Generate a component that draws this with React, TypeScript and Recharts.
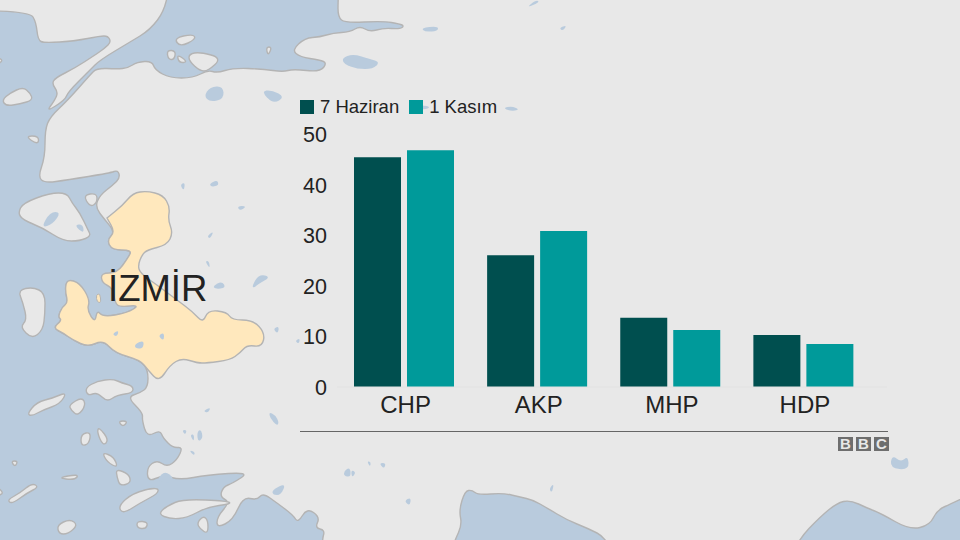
import React from 'react';
import { BarChart, Bar, XAxis, YAxis, Legend } from 'recharts';

const parties = ['CHP', 'AKP', 'MHP', 'HDP'];
const june = [45.5, 26.1, 13.7, 10.3];
const november = [46.9, 30.9, 11.3, 8.5];
const yTicks = [0, 10, 20, 30, 40, 50];
const seriesNames = ['7 Haziran', '1 Kasım'];

const data = parties.map((party, i) => ({ party, june: june[i], november: november[i] }));

const FONT = '"Liberation Sans", Arial, sans-serif';
const DARK = '#004f4f';
const TEAL = '#009a9a';
const LAND = '#e8e8e8';
const SEA = '#b9cbdd';
const COAST = '#b4b4b4';

// background map
const seas = [
  '-40,-30 -40,-40 -30,-40 340,-40 338,0 338,17 345,23 383,21 400,24 404,26 400,29 383,28 370,32 360,26 350,32 333,33 320,37 305,38 292,50 300,57 320,60 327,63 320,72 293,69 283,72 263,69 233,68 217,73 208,70 193,78 170,78 155,70 152,61 137,62 128,68 117,69 97,68 90,75 68,100 50,117 45,130 45,157 38,177 45,183 67,180 110,173 118,170 120,178 113,185 100,195 95,207 105,220 115,232 107,240 112,250 132,250 128,258 117,273 113,288 115,303 140,305 127,313 103,317 95,323 87,310 80,283 67,280 65,290 68,303 62,307 58,317 62,320 53,328 63,333 73,340 88,347 103,340 115,353 140,360 148,370 148,387 140,393 127,397 143,413 142,420 147,437 160,430 163,438 173,448 183,447 177,460 167,467 157,460 147,467 148,482 163,475 180,480 207,475 250,472 233,483 223,487 220,497 230,502 217,517 217,528 233,520 243,497 257,500 263,493 277,503 293,515 298,523 307,508 320,517 315,528 325,530 322,540 322,580 -30,580 -40,580 -40,570',
  '440,580 455,540 462,525 459,510 465,491 472,490 478,495 503,493 520,497 533,500 547,508 567,520 587,528 607,538 625,580',
  '780,580 798,540 820,517 837,503 850,500 867,508 880,513 910,530 930,525 937,510 953,503 1000,480 1000,580',
];

const islands = [
  '-40,10 30,12 36,22 38,40 44,43 75,41 100,36 108,36 111,42 105,48 95,55 75,68 55,78 52,84 58,92 55,100 46,112 65,100 68,92 90,70 100,60 130,42 150,30 165,10 170,-20 -40,-40',
  '2,100 10,93 23,87 30,93 33,100 20,104 6,106',
  '25,136 39,136 38,145',
  '-5,57 4,60 -5,66',
  '174,38 193,34 196,39 180,47',
  '167,50 176,51 174,60 168,59',
  '177,54 188,62 179,63',
  '189,54 200,52 222,58 208,71 200,71 189,61',
  '266,47 272,47 268,56',
  '18,213 23,203 50,193 67,193 72,203 80,213 88,230 91,236 80,241 63,241 43,228 23,220',
  '83,195 97,193 97,203 90,207',
  '18,290 33,287 45,293 45,313 43,330 32,339 20,327 27,320 23,303',
  '85,388 97,381 113,379 122,383 133,386 133,393 117,395 107,402 97,392 88,396',
  '27,414 37,402 53,398 67,392 60,404 43,410 32,416',
  '69,405 82,397 86,405 78,416 71,410',
  '118,421 128,421 123,427',
  '81,434 91,432 89,444 81,446',
  '99,427 109,440 103,446 97,432',
  '102,452 114,457 118,468 107,462',
  '116,469 129,474 131,483 120,486 117,477',
  '118,506 133,493 157,487 159,493 140,503 123,514',
  '158,514 167,506 183,499 228,501 231,504 207,507 187,518 170,519',
  '137,521 148,522 146,529 137,528',
  '197,523 203,516 208,520 208,534 200,529',
  '57,525 70,519 78,525 68,534 59,534',
  '7,500 20,493 32,483 39,487 27,493 12,504',
  '57,478 79,474 75,480',
  '11,461 18,461 15,467',
  '-3,487 4,493 -3,496',
];

const lakes = [
  '204,96 210,87 223,86 224,99 210,102',
  '261,91 272,90 285,97 273,104',
  '342,58 353,54 370,59 380,62 373,69 357,69 344,64',
  '421,28 438,26 438,31 425,32',
  '41,228 50,212 61,212 53,224',
  '74,225 83,224 84,234',
  '209,184 217,180 219,185 212,187',
  '237,206 247,206 240,211',
  '180,185 185,182 184,191',
  '207,236 214,231 210,239',
  '205,261 209,261 210,269',
  '213,286 222,281 226,288 215,289',
  '252,286 259,274 271,277 258,284 254,288',
  '273,329 279,326 278,334',
  '295,341 300,338 299,344',
  '158,336 164,332 164,341',
  '135,344 144,340 143,349 135,348',
  '112,334 119,330 117,337',
  '158,478 165,471 174,478 170,483 160,481',
  '203,411 211,407 208,413',
  '269,412 275,415 279,422 277,426 270,418',
  '272,490 286,483 281,495 273,495',
  '197,432 201,429 203,438 198,442',
  '190,435 194,434 194,442',
  '182,430 187,430 185,435',
  '189,450 195,452 194,456',
  '411,107 422,105 431,107 424,110',
  '503,108 512,106 520,110 510,111',
  '892,455 901,462 908,456 909,470 890,468',
  '344,471 350,467 351,477 344,476',
  '351,470 356,472 352,478',
  '367,461 371,462 370,467',
  '379,463 386,463 384,469',
  '404,501 411,497 410,506',
  '549,489 554,483 552,493',
  '526,8 536,0 540,2',
  '559,28 567,25 563,31',
];

const province = '107,218 123,205 133,193 147,191 163,195 170,207 168,220 173,233 167,245 147,250 142,255 138,265 140,273 157,285 177,300 193,312 203,323 208,310 227,312 232,320 253,320 265,333 262,347 247,345 240,353 230,360 207,363 197,363 182,358 170,365 159,382 148,370 140,360 115,353 103,340 88,347 73,340 63,333 53,328 62,320 58,317 62,307 68,303 65,290 67,279 80,283 90,300 87,310 95,323 97,310 103,317 127,313 140,305 120,307 115,303 113,288 102,283 101,273 117,273 128,258 132,250 112,250 107,240 115,232 107,218';
const provinceIslet = '96,295 100,293 101,303 97,302';

// closed curve through the midpoints, so the traced outlines are not faceted
function smooth(points: string) {
  const pts = points.split(' ').map((p) => p.split(',').map(Number));
  const mid = (a: number[], b: number[]) => `${(a[0] + b[0]) / 2},${(a[1] + b[1]) / 2}`;
  let d = `M${mid(pts[pts.length - 1], pts[0])}`;
  pts.forEach((p, i) => {
    d += ` Q${p[0]},${p[1]} ${mid(p, pts[(i + 1) % pts.length])}`;
  });
  return d + 'Z';
}

function MapBackground() {
  return (
    <svg width={960} height={540} style={{ position: 'absolute', left: 0, top: 0 }}>
      <rect width={960} height={540} fill={LAND} />
      {seas.map((p, i) => (
        <path key={i} d={smooth(p)} fill={SEA} stroke={COAST} strokeWidth={1.4} />
      ))}
      {islands.map((p, i) => (
        <path key={i} d={smooth(p)} fill={LAND} stroke={COAST} strokeWidth={1.4} />
      ))}
      <path d={smooth(province)} fill="#ffe8bd" stroke={COAST} strokeWidth={1.4} />
      <path d={smooth(provinceIslet)} fill="#ffe8bd" stroke={COAST} strokeWidth={1} />
      {lakes.map((p, i) => (
        <path key={i} d={smooth(p)} fill={SEA} />
      ))}
      <text x={108} y={301} fontFamily={FONT} fontSize={36.5} fill="#222">İZMİR</text>
    </svg>
  );
}

function LegendRow(props: any) {
  return (
    <div style={{ display: 'flex', alignItems: 'center', fontFamily: FONT, fontSize: 18.5, color: '#222', lineHeight: '21px' }}>
      {(props.payload || []).map((item: any) => (
        <div key={item.value} style={{ display: 'flex', alignItems: 'center', marginRight: 10 }}>
          <span style={{ width: 14, height: 14, background: item.color, marginRight: 6, display: 'inline-block' }} />
          <span>{item.value}</span>
        </div>
      ))}
    </div>
  );
}

function BbcLogo() {
  const boxes = ['B', 'B', 'C'];
  return (
    <div style={{ position: 'absolute', left: 838, top: 437, display: 'flex' }}>
      {boxes.map((b, i) => (
        <div
          key={i}
          style={{
            width: 15,
            height: 14,
            marginRight: i < 2 ? 3 : 0,
            background: '#6e6e6e',
            color: '#e8e8e8',
            fontFamily: FONT,
            fontWeight: 700,
            fontSize: 15,
            lineHeight: '14px',
            textAlign: 'center',
          }}
        >
          {b}
        </div>
      ))}
    </div>
  );
}

export default function App() {
  return (
    <div style={{ position: 'absolute', left: 0, top: 0, width: 960, height: 540, overflow: 'hidden' }}>
      <MapBackground />
      <div style={{ position: 'absolute', left: 0, top: 0 }}>
        <BarChart
          width={960}
          height={540}
          data={data}
          barSize={47}
          barGap={6}
          margin={{ top: 134.5, right: 73, bottom: 92, left: 277 }}
        >
          <XAxis
            dataKey="party"
            height={40}
            padding={{ left: 0, right: 17.5 }}
            axisLine={{ stroke: '#e2e2e2' }}
            tickLine={false}
            tickMargin={3}
            tick={{ fontFamily: FONT, fontSize: 24, fill: '#222', dx: 2 }}
          />
          <YAxis
            width={60}
            domain={[0, 50]}
            ticks={yTicks}
            axisLine={false}
            tickLine={false}
            tickMargin={4}
            tick={{ fontFamily: FONT, fontSize: 21.5, fill: '#222' }}
          />
          <Legend
            content={<LegendRow />}
            itemSorter={null}
            wrapperStyle={{ position: 'absolute', left: 300, top: 96, width: 300, bottom: 'auto' }}
          />
          <Bar dataKey="june" name={seriesNames[0]} fill={DARK} isAnimationActive={false} />
          <Bar dataKey="november" name={seriesNames[1]} fill={TEAL} isAnimationActive={false} />
        </BarChart>
      </div>
      <div style={{ position: 'absolute', left: 300, top: 431, width: 588, height: 1, background: '#666' }} />
      <BbcLogo />
    </div>
  );
}
